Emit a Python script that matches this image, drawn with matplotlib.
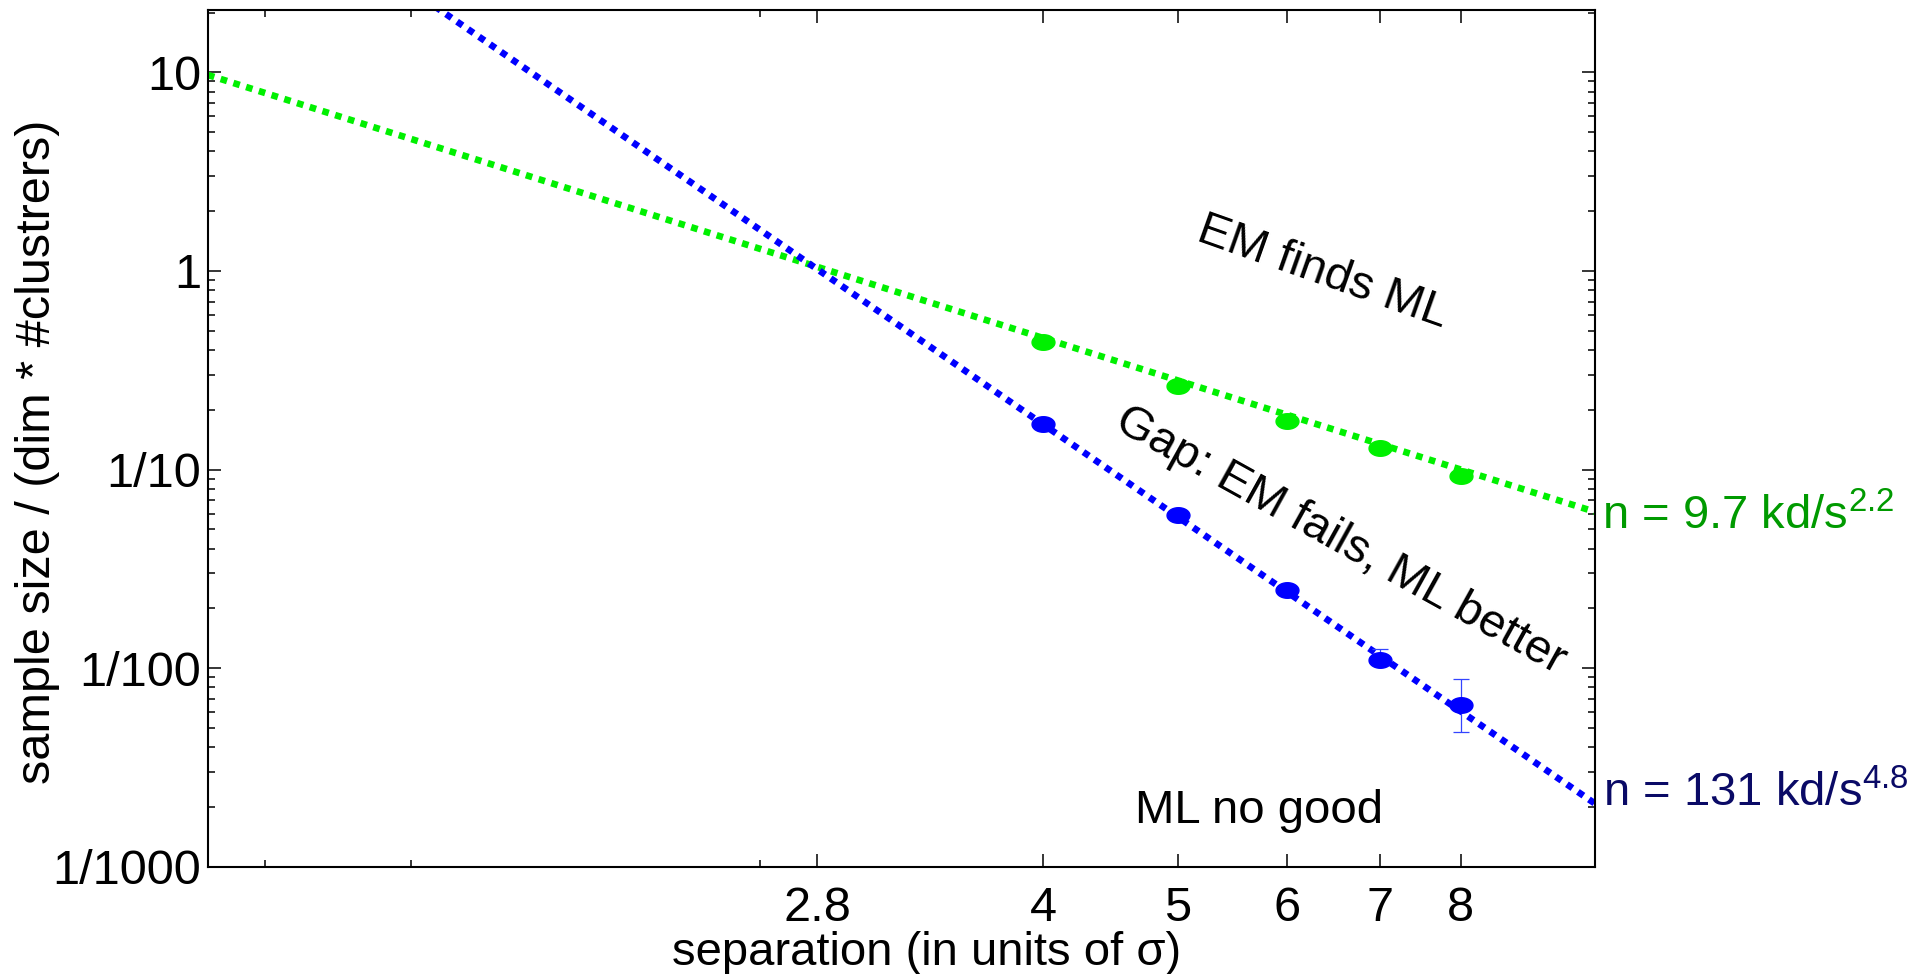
import numpy as np
import matplotlib
matplotlib.use("Agg")
import matplotlib.pyplot as plt
from matplotlib.path import Path
from matplotlib.ticker import FixedLocator, NullFormatter, LogLocator

plt.rcParams['font.family'] = ['Liberation Sans', 'DejaVu Sans']
plt.rcParams['mathtext.fontset'] = 'custom'
plt.rcParams['mathtext.rm'] = 'Liberation Sans'
plt.rcParams['mathtext.it'] = 'Liberation Sans:italic'

# measured points (separation vs. sample size / (dim * #clusters))
sep = [4, 5, 6, 7, 8]
em_finds_ml = [0.441, 0.262, 0.175, 0.1285, 0.0926]
ml_better = [0.1696, 0.059, 0.0247, 0.0110, 0.00649]
ml_err_lo = [0.1696, 0.059, 0.0247, 0.0110, 0.00477]
ml_err_hi = [0.1696, 0.059, 0.0247, 0.0125, 0.00877]

# fitted power laws n = c * kd / s^p
fit_green = (9.7, 2.2)
fit_blue = (131, 4.8)
s_range = [1, 10]

xtick_vals = [2.75, 4, 5, 6, 7, 8]
xtick_labels = ['2.8', '4', '5', '6', '7', '8']
xminor_vals = [1.1, 1.4, 2.5]
ytick_vals = [1e-3, 1e-2, 1e-1, 1, 10]
ytick_labels = ['1/1000', '1/100', '1/10', '1', '10']

green = '#00f000'
blue = '#0000ff'

# slightly flattened ellipse marker
t = np.linspace(0, 2 * np.pi, 40)
ellipse = Path(np.column_stack([np.cos(t), 0.68 * np.sin(t)]), closed=True)

fig = plt.figure(figsize=(19.29, 9.74), dpi=100)
ax = fig.add_axes([0.1078, 0.1102, 0.7191, 0.8795])
ax.set_xscale('log')
ax.set_yscale('log')

s = np.array(s_range, dtype=float)
ax.plot(s, fit_green[0] / s ** fit_green[1], color=green, lw=4.8,
        linestyle=(0, (1, 1)), dash_capstyle='butt', zorder=2)
ax.plot(s, fit_blue[0] / s ** fit_blue[1], color=blue, lw=4.8,
        linestyle=(0, (1, 1)), dash_capstyle='butt', zorder=2)

yerr = [np.array(ml_better) - np.array(ml_err_lo),
        np.array(ml_err_hi) - np.array(ml_better)]
ax.errorbar(sep, ml_better, yerr=yerr, fmt='none', ecolor='#3344ff',
            elinewidth=0.9, capsize=5.5, capthick=0.9, zorder=3)
ax.plot(sep, em_finds_ml, linestyle='none', marker=ellipse, markersize=16.5,
        color=green, zorder=4)
ax.plot(sep, ml_better, linestyle='none', marker=ellipse, markersize=16.5,
        color=blue, zorder=4)

ax.set_xlim(1, 10)
ax.set_ylim(1e-3, 20.6)

ax.xaxis.set_major_locator(FixedLocator(xtick_vals))
ax.set_xticklabels(xtick_labels)
ax.xaxis.set_minor_locator(FixedLocator(xminor_vals))
ax.xaxis.set_minor_formatter(NullFormatter())
ax.yaxis.set_major_locator(FixedLocator(ytick_vals))
ax.set_yticklabels(ytick_labels)
ax.yaxis.set_minor_locator(LogLocator(base=10, subs=np.arange(2, 10)))
ax.yaxis.set_minor_formatter(NullFormatter())

ax.tick_params(which='both', direction='in', top=True, right=True, width=1.1,
               labelsize=35)
ax.tick_params(which='major', length=9.4)
ax.tick_params(which='minor', length=5)
ax.tick_params(axis='x', which='major', pad=14)
ax.tick_params(axis='y', which='major', pad=5)
for sp in ax.spines.values():
    sp.set_linewidth(1.5)

ax.set_xlabel('separation (in units of σ)', fontsize=34)
ax.xaxis.label.set_verticalalignment('baseline')
ax.xaxis.set_label_coords(0.518, -0.1147)
ax.set_ylabel('sample size / (dim * #clustrers)', fontsize=35)
ax.yaxis.set_label_coords(-0.1067, 0.484)

ax.text(6.36, 0.98, 'EM finds ML', fontsize=34, rotation=-19.5,
        ha='center', va='center', rotation_mode='anchor')
ax.text(6.55, 0.0437, 'Gap: EM fails, ML better', fontsize=34, rotation=-29,
        ha='center', va='center', rotation_mode='anchor')
ax.text(4.66, 0.00166, 'ML no good', fontsize=34, ha='left', va='baseline')

ax.text(10.11, 0.0502, r'n = 9.7 kd/s$^{\mathregular{2.2}}$', fontsize=34,
        color='#009a00', ha='left', va='baseline', clip_on=False)
ax.text(10.13, 0.00202, r'n = 131 kd/s$^{\mathregular{4.8}}$', fontsize=34,
        color='#0a0a66', ha='left', va='baseline', clip_on=False)

fig.savefig('out.png', dpi=100)
